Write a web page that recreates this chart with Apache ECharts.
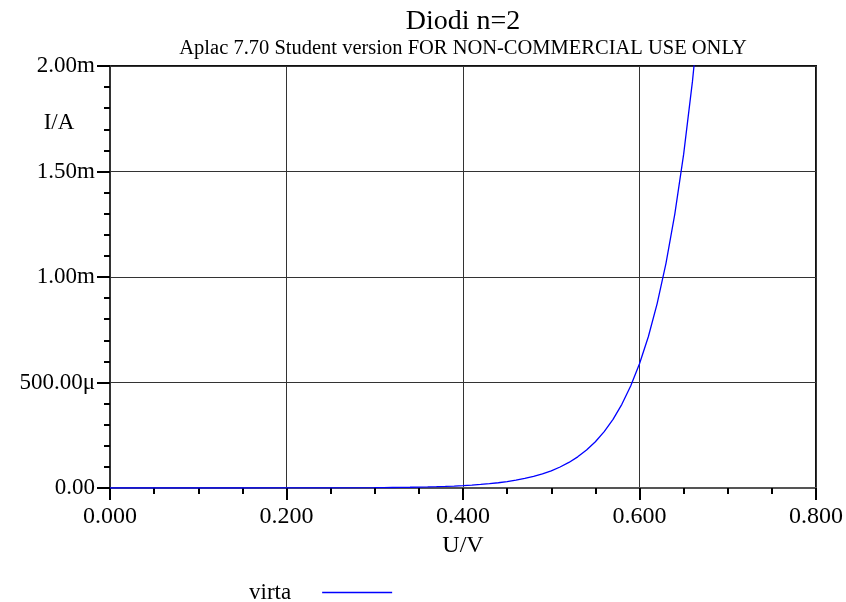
<!DOCTYPE html>
<html>
<head>
<meta charset="utf-8">
<script src="https://cdn.jsdelivr.net/npm/echarts@6/dist/echarts.min.js"></script>
<style>
html,body{margin:0;padding:0;background:#fff;}
#chart{width:846px;height:602px;}
</style>
</head>
<body>
<div id="chart"></div>
<script>
// ---- data ----
const titleText = 'Diodi n=2';
const subtitleText = 'Aplac 7.70 Student version FOR NON-COMMERCIAL USE ONLY';
const xAxisName = 'U/V';
const yAxisName = 'I/A';
const seriesName = 'virta';
const xTickLabels = ['0.000', '0.200', '0.400', '0.600', '0.800'];
const yTickLabels = ['0.00', '500.00\u03bc', '1.00m', '1.50m', '2.00m'];
// voltage U (V)
const voltage = [0.00, 0.05, 0.10, 0.15, 0.20, 0.25, 0.30, 0.31, 0.32, 0.33, 0.34, 0.35, 0.36, 0.37, 0.38, 0.39,
  0.40, 0.41, 0.42, 0.43, 0.44, 0.45, 0.46, 0.47, 0.48, 0.49, 0.50, 0.51, 0.52, 0.53, 0.54, 0.55, 0.56, 0.57,
  0.58, 0.59, 0.60, 0.61, 0.62, 0.63, 0.64, 0.65, 0.66, 0.67];
// current I (A)
const current = [0, 1.1e-8, 3.0e-8, 8.0e-8, 2.2e-7, 5.9e-7, 1.57e-6, 1.91e-6, 2.33e-6, 2.84e-6, 3.46e-6, 4.21e-6,
  5.13e-6, 6.25e-6, 7.62e-6, 9.28e-6, 1.131e-5, 1.378e-5, 1.679e-5, 2.046e-5, 2.493e-5, 3.04e-5, 3.70e-5,
  4.51e-5, 5.50e-5, 6.70e-5, 8.16e-5, 9.94e-5, 1.211e-4, 1.476e-4, 1.799e-4, 2.192e-4, 2.671e-4, 3.254e-4,
  3.965e-4, 4.83e-4, 5.89e-4, 7.17e-4, 8.74e-4, 1.065e-3, 1.298e-3, 1.581e-3, 1.927e-3, 2.348e-3];

// ---- chart ----
const FONT = '"Liberation Serif", "Times New Roman", serif';
const xInterval = 0.2, yInterval = 0.0005;
const seriesData = voltage.map((u, i) => [u, current[i]]);

const chart = echarts.init(document.getElementById('chart'), null, {renderer: 'canvas'});
chart.setOption({
  animation: false,
  backgroundColor: '#ffffff',
  grid: {
    left: 110, right: 30, top: 66, bottom: 114,
    show: true, borderColor: '#111', borderWidth: 2, backgroundColor: 'transparent'
  },
  graphic: [
    {type: 'text', style: {text: titleText, x: 463, y: 22, align: 'center', verticalAlign: 'middle', font: '28px ' + FONT, fill: '#000'}},
    {type: 'text', style: {text: subtitleText, x: 463, y: 48.5, align: 'center', verticalAlign: 'middle', font: '20.5px ' + FONT, fill: '#000'}},
    {type: 'text', style: {text: yAxisName, x: 59, y: 123, align: 'center', verticalAlign: 'middle', font: '23px ' + FONT, fill: '#000'}}
  ],
  legend: {
    data: [{name: seriesName, icon: 'rect'}],
    left: 244, top: 576,
    align: 'right',
    itemWidth: 70, itemHeight: 1.4,
    itemStyle: {color: '#0000ff', borderWidth: 0},
    textStyle: {fontFamily: FONT, fontSize: 23, color: '#000', padding: [0, 26, 0, 0]}
  },
  xAxis: {
    type: 'value', min: 0, max: 0.8, interval: xInterval,
    name: xAxisName, nameLocation: 'middle', nameGap: 46,
    nameTextStyle: {fontFamily: FONT, fontSize: 24, color: '#000'},
    axisLine: {show: true, lineStyle: {color: '#555', width: 2}},
    axisTick: {show: true, inside: false, length: 12, lineStyle: {color: '#000', width: 2}},
    minorTick: {show: true, splitNumber: 4, length: 6, lineStyle: {color: '#000', width: 2}},
    axisLabel: {
      margin: 17, fontFamily: FONT, fontSize: 24, color: '#000',
      formatter: v => xTickLabels[Math.round(v / xInterval)]
    },
    splitLine: {show: true, lineStyle: {color: '#333', width: 1}}
  },
  yAxis: {
    type: 'value', min: 0, max: 0.002, interval: yInterval,
    axisLine: {show: true, lineStyle: {color: '#333', width: 2}},
    axisTick: {show: true, inside: false, length: 13, lineStyle: {color: '#000', width: 2}},
    minorTick: {show: true, splitNumber: 5, length: 6, lineStyle: {color: '#000', width: 2}},
    axisLabel: {
      margin: 15, fontFamily: FONT, fontSize: 23, color: '#000',
      formatter: v => yTickLabels[Math.round(v / yInterval)]
    },
    splitLine: {show: true, lineStyle: {color: '#333', width: 1}}
  },
  series: [{
    name: seriesName,
    type: 'line',
    data: seriesData,
    symbol: 'none',
    showSymbol: false,
    smooth: false,
    clip: true,
    lineStyle: {color: '#0000ff', width: 1.3},
    itemStyle: {color: '#0000ff'},
    z: 5
  }]
});
</script>
</body>
</html>
